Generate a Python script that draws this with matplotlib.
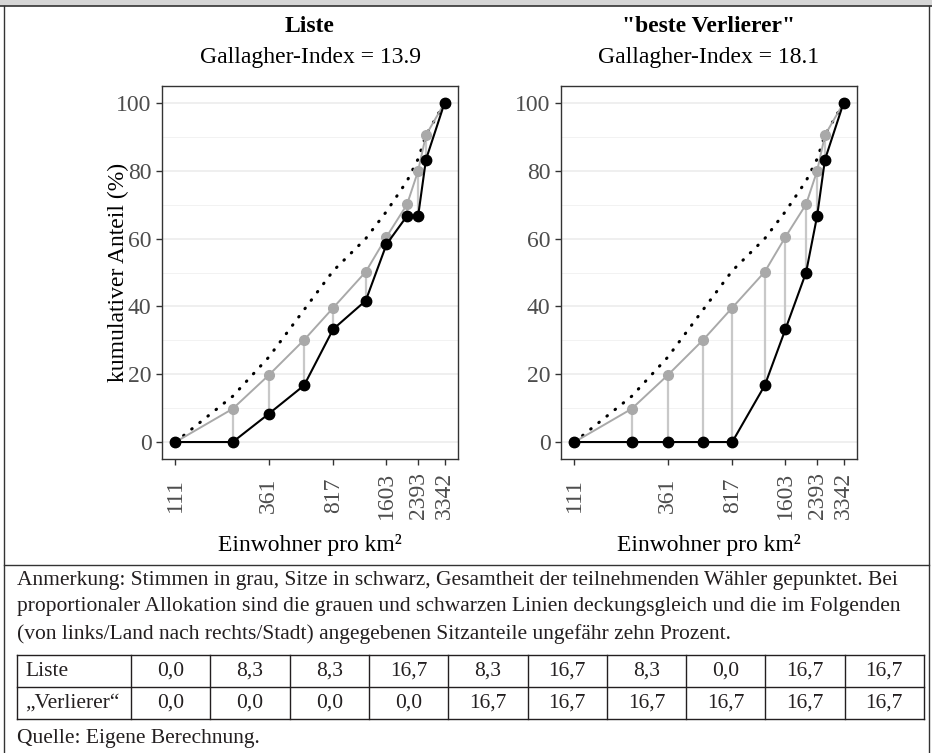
import numpy as np
import matplotlib
matplotlib.use("Agg")
import matplotlib.pyplot as plt
from matplotlib.lines import Line2D
from matplotlib.patches import Rectangle
from matplotlib.ticker import FixedLocator, FixedFormatter, NullLocator

plt.rcParams["font.family"] = ["Liberation Serif", "DejaVu Serif"]

# Einwohner pro km2 (Bezirke sortiert von Land nach Stadt)
dichte = [111, 229, 361, 565, 817, 1233, 1603, 2080, 2393, 2642, 3342]
tick_dichte = [111, 361, 817, 1603, 2393, 3342]

# kumulative Anteile in %
waehler = [0, 13.5, 25.0, 39.0, 50.5, 60.0, 68.0, 77.0, 83.5, 90.5, 100]
stimmen = [0, 9.8, 19.7, 30.1, 39.6, 50.2, 60.5, 70.1, 80.0, 90.5, 100]
sitze_liste = [0, 0, 8.3, 16.7, 33.3, 41.7, 58.3, 66.7, 66.7, 83.3, 100]
sitze_verlierer = [0, 0, 0, 0, 0, 16.7, 33.3, 50.0, 66.7, 83.3, 100]

titel = ["Liste", '"beste Verlierer"']
gallagher = [13.9, 18.1]

# Sitzanteile je Bezirk (Tabelle)
tab_zeilen = ["Liste", "„Verlierer“"]
tab_liste = [0.0, 8.3, 8.3, 16.7, 8.3, 16.7, 8.3, 0.0, 16.7, 16.7]
tab_verlierer = [0.0, 0.0, 0.0, 0.0, 16.7, 16.7, 16.7, 16.7, 16.7, 16.7]

anmerkung = [
    "Anmerkung: Stimmen in grau, Sitze in schwarz, Gesamtheit der teilnehmenden Wähler gepunktet. Bei",
    "proportionaler Allokation sind die grauen und schwarzen Linien deckungsgleich und die im Folgenden",
    "(von links/Land nach rechts/Stadt) angegebenen Sitzanteile ungefähr zehn Prozent.",
]
quelle = "Quelle: Eigene Berechnung."

W, H = 932, 753
fig = plt.figure(figsize=(W / 100, H / 100), dpi=100)
FS = 17      # schrift im plot
FS_TXT = 15.5  # schrift anmerkung / tabelle
INK = "#231f20"


def fx(px):
    return px / W


def fy(py):
    return 1 - py / H


def hline(x0, x1, y, **kw):
    fig.add_artist(Line2D([fx(x0), fx(x1)], [fy(y), fy(y)], transform=fig.transFigure, **kw))


def vline(x, y0, y1, **kw):
    fig.add_artist(Line2D([fx(x), fx(x)], [fy(y0), fy(y1)], transform=fig.transFigure, **kw))


# rahmen
fig.add_artist(Rectangle((0, fy(6)), 1, 1 - fy(6), transform=fig.transFigure,
                         facecolor="#d6d6d6", edgecolor="none"))
hline(0, W, 6, color="#333333", lw=1.2)
vline(4, 6, H, color="#333333", lw=1.0)
vline(929, 6, H, color="#333333", lw=1.0)
hline(4, 929, 565, color="#333333", lw=1.0)

ax_left = [162, 561]
ax_top, ax_bot, ax_w = 86, 459, 296
sitze = [sitze_liste, sitze_verlierer]

lo, hi = np.log10(min(dichte)), np.log10(max(dichte))
pad = 0.05 * (hi - lo)

for i in range(2):
    ax = fig.add_axes([fx(ax_left[i]), fy(ax_bot), fx(ax_w), (ax_bot - ax_top) / H])
    ax.set_xscale("log")
    ax.set_xlim(10 ** (lo - pad), 10 ** (hi + pad))
    ax.set_ylim(-5, 105)

    ax.vlines(dichte, sitze[i], stimmen, color="#c8c8c8", lw=1.6, zorder=2)
    ax.plot(dichte, waehler, color="black", lw=2.2, linestyle=(0, (0.2, 3.2)),
            dash_capstyle="round", zorder=3)
    ax.plot(dichte, stimmen, color="#a9a9a9", lw=1.4, marker="o", ms=7, zorder=4)
    ax.plot(dichte, sitze[i], color="black", lw=1.5, marker="o", ms=7.5, zorder=5)

    ax.xaxis.set_major_locator(FixedLocator(tick_dichte))
    ax.xaxis.set_major_formatter(FixedFormatter([str(t) for t in tick_dichte]))
    ax.xaxis.set_minor_locator(NullLocator())
    ax.set_yticks([0, 20, 40, 60, 80, 100])
    ax.set_yticks([10, 30, 50, 70, 90], minor=True)
    ax.grid(axis="y", which="major", color="#ebebeb", lw=1.1)
    ax.grid(axis="y", which="minor", color="#f0f0f0", lw=0.6)
    ax.set_axisbelow(True)
    ax.tick_params(axis="y", which="minor", length=0)
    ax.tick_params(which="major", length=4, width=1, color="#333333",
                   labelsize=FS, labelcolor="#4d4d4d")
    ax.tick_params(axis="x", labelrotation=90, pad=22)
    for lab in ax.get_xticklabels():
        lab.set_va("center")
    for s in ax.spines.values():
        s.set_color("#333333")
        s.set_linewidth(1.0)

    cx = ax_left[i] + ax_w / 2
    fig.text(fx(cx), fy(26), titel[i], ha="center", va="center", fontsize=FS, fontweight="bold")
    fig.text(fx(cx), fy(58), f"Gallagher-Index = {gallagher[i]}", ha="center", va="center",
             fontsize=FS)
    fig.text(fx(cx), fy(545), "Einwohner pro km²", ha="center", va="center", fontsize=FS)

fig.text(fx(118), fy((ax_top + ax_bot) / 2), "kumulativer Anteil (%)", rotation=90,
         ha="center", va="center", fontsize=FS)

# anmerkung
for k, zeile in enumerate(anmerkung):
    fig.text(fx(17), fy(580 + 27 * k), zeile, ha="left", va="center", fontsize=FS_TXT, color=INK)

# tabelle
t_x0, t_x1, t_c1 = 17, 924, 131
t_y = [655, 687, 719]
col_w = (t_x1 - t_c1) / len(tab_liste)
for y in t_y:
    hline(t_x0, t_x1, y, color=INK, lw=1.0)
vline(t_x0, t_y[0], t_y[-1], color=INK, lw=1.0)
for j in range(len(tab_liste) + 1):
    vline(t_c1 + j * col_w, t_y[0], t_y[-1], color=INK, lw=1.0)
for r, (name, werte) in enumerate(zip(tab_zeilen, [tab_liste, tab_verlierer])):
    yc = (t_y[r] + t_y[r + 1]) / 2
    fig.text(fx(t_x0 + 8), fy(yc), name, ha="left", va="center", fontsize=FS_TXT, color=INK)
    for j, v in enumerate(werte):
        fig.text(fx(t_c1 + (j + 0.5) * col_w), fy(yc), f"{v:.1f}".replace(".", ","),
                 ha="center", va="center", fontsize=FS_TXT, color=INK)

fig.text(fx(17), fy(738), quelle, ha="left", va="center", fontsize=FS_TXT, color=INK)

fig.savefig("out.png", dpi=100)
